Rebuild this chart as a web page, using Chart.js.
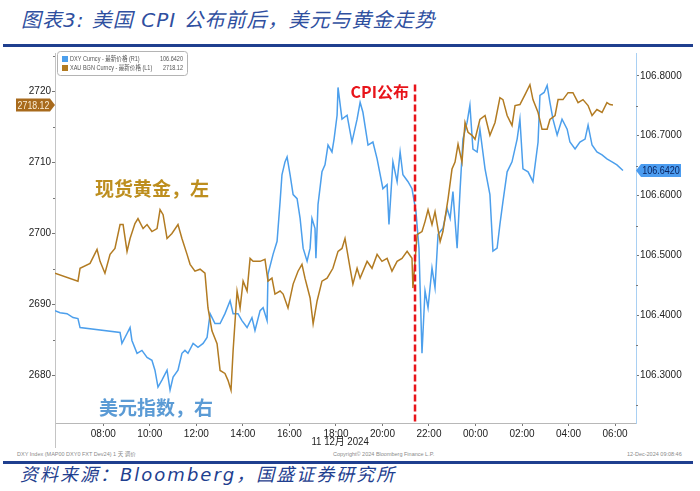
<!DOCTYPE html>
<html><head><meta charset="utf-8">
<script src="https://cdn.jsdelivr.net/npm/chart.js@4.4.1/dist/chart.umd.min.js"></script>
<style>
html,body{margin:0;padding:0;background:#fff;}
#wrap{position:relative;width:700px;height:491px;overflow:hidden;background:#fff;}
#title{position:absolute;left:21px;top:10px;font-style:italic;font-size:20px;line-height:20px;font-family:'DejaVu Sans','Noto Sans CJK SC',sans-serif;letter-spacing:1px;color:#2f4f9f;white-space:nowrap;}
#topline{position:absolute;left:3px;top:44px;width:690px;height:3px;background:#1f3f8f;}
#cv{position:absolute;left:0;top:46px;}
.meta{position:absolute;top:451px;font-size:5.5px;line-height:6px;font-family:'Liberation Sans','Noto Sans CJK SC',sans-serif;color:#8a8a8a;white-space:nowrap;}
#botline{position:absolute;left:3px;top:461px;width:690px;height:3px;background:#1f3f8f;}
#source{position:absolute;left:20px;top:465px;font-style:italic;font-size:18px;line-height:20px;font-family:'DejaVu Sans','Noto Sans CJK SC',sans-serif;letter-spacing:2px;color:#1f3f8f;white-space:nowrap;}
</style></head>
<body><div id="wrap">
<div id="title">图表3:  美国 CPI 公布前后，美元与黄金走势</div>
<div id="topline"></div>
<canvas id="cv" width="700" height="404" style="width:700px;height:404px"></canvas>
<div class="meta" style="left:17px">DXY Index (MAP00 DXY0 FXT Dev24) 1 天 调价</div>
<div class="meta" style="left:333px">Copyright© 2024 Bloomberg Finance L.P.</div>
<div class="meta" style="left:627px">12-Dec-2024 09:08:46</div>
<div id="botline"></div>
<div id="source">资料来源：Bloomberg，国盛证券研究所</div>
</div>
<script>
// ---- data (hours on the clock, continuing past 24 into 12 Dec) ----
const goldHours = [5.92,6.91,7.00,7.43,7.73,7.86,8.07,8.29,8.50,8.72,8.85,9.02,9.15,9.36,9.49,9.71,9.88,10.09,10.31,10.44,10.57,10.74,10.95,11.21,11.38,11.60,11.73,11.94,12.16,12.37,12.50,12.67,12.89,13.02,13.23,13.36,13.49,13.58,13.75,13.88,14.01,14.18,14.31,14.44,14.74,14.95,15.08,15.25,15.38,15.60,15.73,15.94,16.16,16.37,16.54,16.67,16.89,17.02,17.19,17.40,17.62,17.87,18.09,18.26,18.39,18.61,18.73,18.91,19.04,19.34,19.55,19.77,19.98,20.20,20.41,20.63,20.84,21.06,21.27,21.31,21.49,21.70,21.83,21.96,22.13,22.26,22.48,22.60,22.82,22.99,23.12,23.25,23.42,23.55,23.68,23.85,23.98,24.19,24.41,24.62,24.84,25.05,25.18,25.36,25.57,25.70,25.91,26.13,26.34,26.47,26.69,26.86,27.08,27.20,27.42,27.55,27.76,27.98,28.19,28.41,28.62,28.84,29.01,29.22,29.44,29.65,29.78,29.91];
const goldPrices = [2694.41,2693.29,2695.10,2695.80,2697.76,2696.08,2694.41,2697.06,2697.90,2701.26,2701.26,2697.48,2699.30,2701.40,2702.10,2700.70,2701.26,2700.28,2700.70,2703.36,2702.66,2699.30,2700.00,2701.26,2699.30,2697.06,2695.66,2694.69,2694.97,2694.41,2689.51,2686.29,2684.48,2680.70,2680.28,2679.30,2677.90,2683.50,2691.89,2689.51,2693.29,2691.89,2696.50,2696.08,2696.08,2696.36,2693.29,2693.71,2691.47,2691.89,2691.47,2689.51,2692.87,2694.69,2695.66,2693.71,2690.91,2687.27,2690.49,2693.29,2693.71,2695.10,2697.48,2697.90,2699.30,2695.10,2692.87,2695.10,2693.71,2696.08,2695.10,2697.06,2696.08,2696.50,2694.69,2696.08,2696.50,2697.48,2696.50,2692.31,2699.86,2700.28,2701.68,2703.36,2701.26,2703.08,2698.88,2700.28,2704.90,2709.09,2710.07,2712.59,2710.07,2715.66,2714.27,2713.85,2713.29,2716.08,2716.64,2713.85,2715.66,2719.16,2718.88,2716.64,2715.24,2718.04,2718.18,2719.58,2720.98,2718.88,2717.06,2714.69,2714.69,2716.08,2716.64,2718.88,2718.88,2719.86,2719.86,2718.46,2718.88,2718.04,2716.64,2717.48,2717.06,2718.46,2718.18,2718.12];
const dxyHours = [5.92,6.14,6.44,6.70,6.91,7.00,8.72,8.80,9.02,9.15,9.23,9.45,9.66,9.88,10.09,10.22,10.35,10.52,10.74,10.87,11.00,11.21,11.38,11.51,11.64,11.86,12.07,12.29,12.46,12.59,12.80,13.02,13.23,13.45,13.58,13.79,13.96,14.18,14.39,14.52,14.74,14.87,15.04,15.08,15.30,15.47,15.60,15.68,15.81,15.90,16.03,16.16,16.33,16.46,16.59,16.76,16.89,16.97,17.10,17.14,17.23,17.40,17.53,17.66,17.83,17.92,18.05,18.09,18.26,18.48,18.69,18.91,19.04,19.16,19.38,19.59,19.77,20.02,20.20,20.28,20.45,20.63,20.76,20.88,21.10,21.27,21.44,21.57,21.70,21.83,21.96,22.13,22.26,22.39,22.60,22.78,22.91,23.03,23.21,23.34,23.46,23.64,23.76,23.89,24.07,24.19,24.41,24.62,24.75,24.93,25.05,25.18,25.36,25.57,25.79,25.91,26.04,26.26,26.47,26.69,26.77,26.95,27.08,27.20,27.33,27.51,27.72,27.94,28.06,28.28,28.49,28.71,28.84,29.01,29.22,29.44,29.65,29.87,30.08,30.34];
const dxyValues = [106.4080,106.4046,106.4030,106.3964,106.3947,106.3798,106.3715,106.3533,106.3699,106.3798,106.3583,106.3368,106.3417,106.3301,106.3252,106.3086,106.2805,106.2921,106.3086,106.2755,106.2970,106.3086,106.3368,106.3417,106.3368,106.3533,106.3467,106.3533,106.3632,106.4030,106.3864,106.3864,106.4030,106.4245,106.4030,106.4030,106.3914,106.3798,106.3964,106.3748,106.4080,106.4129,106.3914,106.4692,106.5023,106.5238,106.5901,106.6348,106.6563,106.6646,106.6348,106.6017,106.5950,106.5619,106.5123,106.4907,106.5123,106.5619,106.5454,106.4957,106.5851,106.6397,106.6513,106.6844,106.6728,106.6944,106.7341,106.7805,106.7275,106.7341,106.6894,106.7275,106.7556,106.7391,106.6844,106.6894,106.6613,106.6116,106.6182,106.5520,106.6563,106.6232,106.6728,106.6348,106.6232,106.6116,106.5735,106.5123,106.3368,106.4411,106.4129,106.4791,106.4460,106.5354,106.5454,106.5785,106.5619,106.6066,106.5123,106.6116,106.6944,106.7225,106.7507,106.6778,106.6728,106.7109,106.6447,106.6017,106.5073,106.5123,106.5520,106.5901,106.6397,106.6563,106.6944,106.7275,106.6447,106.6397,106.6232,106.6894,106.7672,106.7722,106.7838,106.7556,106.7275,106.7010,106.7275,106.7109,106.6894,106.6778,106.6894,106.6944,106.7175,106.6844,106.6728,106.6679,106.6613,106.6563,106.6513,106.6420];
const xTickHours = [8,10,12,14,16,18,20,22,24,26,28,30];
const leftTicks = [2680,2690,2700,2710,2720];
const rightTicks = [106.3,106.4,106.5,106.6,106.7,106.8];
const legendLabels = ['DXY Curncy - 最新价格 (R1)','XAU BGN Curncy - 最新价格 (L1)'];
const lastValues = ['106.6420','2718.12'];
const dateLabel = '11 12月 2024';
const cpiTime = 21.4;
const cpiText = 'CPI公布';
const goldText = '现货黄金，左';
const dxyText = '美元指数，右';

const BLUE = '#4c9fec', GOLD = '#b27b22';
const SANS = "'Liberation Sans',Arial,sans-serif";

function roundRect(ctx,x,y,w,h,r){ctx.beginPath();ctx.moveTo(x+r,y);ctx.lineTo(x+w-r,y);ctx.quadraticCurveTo(x+w,y,x+w,y+r);ctx.lineTo(x+w,y+h-r);ctx.quadraticCurveTo(x+w,y+h,x+w-r,y+h);ctx.lineTo(x+r,y+h);ctx.quadraticCurveTo(x,y+h,x,y+h-r);ctx.lineTo(x,y+r);ctx.quadraticCurveTo(x,y,x+r,y);ctx.closePath();}
function narrowText(ctx,txt,x,y,sx){ctx.save();ctx.translate(x,y);ctx.scale(sx,1);ctx.fillText(txt,0,0);ctx.restore();}

const decor = {
  id:'decor',
  afterDatasetsDraw(chart){
    const {ctx, chartArea:ca} = chart;
    const xs = chart.scales.x, yl = chart.scales.y, yr = chart.scales.y1;
    ctx.save();
    // minor ticks
    ctx.strokeStyle='#777'; ctx.lineWidth=1;
    for (let i=0;i<leftTicks.length;i++){
      const v = leftTicks[i]+5; if (v>yl.max) continue;
      const py=Math.round(yl.getPixelForValue(v))+0.5;
      ctx.beginPath(); ctx.moveTo(ca.left-2,py); ctx.lineTo(ca.left,py); ctx.stroke();
    }
    for (let i=0;i<rightTicks.length;i++){
      const v = rightTicks[i]-0.05; if (v<yr.min) continue;
      const py=Math.round(yr.getPixelForValue(v))+0.5;
      ctx.beginPath(); ctx.moveTo(ca.right,py); ctx.lineTo(ca.right+2,py); ctx.stroke();
    }
    // left axis extension below
    ctx.strokeStyle='#c4c4c4';
    ctx.beginPath(); ctx.moveTo(Math.round(ca.left)+0.5, ca.bottom); ctx.lineTo(Math.round(ca.left)+0.5, ca.bottom+25); ctx.stroke();
    // date label
    ctx.fillStyle='#222'; ctx.font="11px "+SANS+",'Noto Sans CJK SC'"; ctx.textAlign='center'; ctx.textBaseline='middle';
    narrowText(ctx, dateLabel, xs.getPixelForValue(18.18), ca.bottom+19, 0.88);
    // CPI line
    const cx = xs.getPixelForValue(cpiTime);
    ctx.setLineDash([7,3]); ctx.strokeStyle='#e8141a'; ctx.lineWidth=2.5;
    ctx.beginPath(); ctx.moveTo(cx, yl.getPixelForValue(2721.0)); ctx.lineTo(cx, ca.bottom); ctx.stroke();
    ctx.setLineDash([]);
    ctx.font="bold 16px 'Noto Sans CJK SC',sans-serif"; ctx.fillStyle='#e8141a'; ctx.textAlign='right';
    ctx.fillText(cpiText, cx-6, yl.getPixelForValue(2719.9));
    // series notes
    ctx.textAlign='left';
    ctx.font="bold 19px 'Noto Sans CJK SC',sans-serif";
    ctx.fillStyle='#bd8e1e'; ctx.fillText(goldText, xs.getPixelForValue(7.64), yl.getPixelForValue(2706.3));
    ctx.fillStyle='#5b9bd5'; ctx.fillText(dxyText, xs.getPixelForValue(7.81), yr.getPixelForValue(106.2457));
    // legend box
    const lx=57, ly=5, lw=130, lh=24;
    ctx.fillStyle='#fff'; roundRect(ctx,lx+0.5,ly+0.5,lw,lh,3); ctx.fill();
    ctx.strokeStyle='#b4b4b4'; ctx.lineWidth=1; ctx.stroke();
    ctx.font="6.5px 'Liberation Sans','Noto Sans CJK SC',sans-serif";
    const rows=[[BLUE,legendLabels[0],lastValues[0]],[GOLD,legendLabels[1],lastValues[1]]];
    rows.forEach((r,i)=>{
      const ry = ly+8+i*9;
      ctx.fillStyle=r[0]; ctx.fillRect(lx+5, ry-3, 6, 6);
      ctx.fillStyle='#555'; ctx.textAlign='left'; narrowText(ctx, r[1], lx+13, ry, 0.85);
      ctx.textAlign='right'; narrowText(ctx, r[2], lx+lw-4, ry, 0.85);
    });
    // last value tags
    ctx.font='11px '+SANS; ctx.textBaseline='middle';
    let py = yl.getPixelForValue(goldPrices[goldPrices.length-1]);
    ctx.fillStyle='#a86a1c';
    ctx.beginPath(); ctx.moveTo(16,py-6.5); ctx.lineTo(50,py-6.5); ctx.lineTo(ca.left,py); ctx.lineTo(50,py+6.5); ctx.lineTo(16,py+6.5); ctx.closePath(); ctx.fill();
    ctx.fillStyle='#fbeed6'; ctx.textAlign='center'; narrowText(ctx, lastValues[1], 33.5, py+0.5, 0.8);
    py = yr.getPixelForValue(dxyValues[dxyValues.length-1]);
    ctx.fillStyle='#4b9cf0';
    ctx.beginPath(); ctx.moveTo(ca.right,py); ctx.lineTo(ca.right+5,py-6.5); ctx.lineTo(681,py-6.5); ctx.lineTo(681,py+6.5); ctx.lineTo(ca.right+5,py+6.5); ctx.closePath(); ctx.fill();
    ctx.fillStyle='#0b2560'; narrowText(ctx, lastValues[0], (ca.right+5+681)/2, py+0.5, 0.82);
    ctx.restore();
  }
};

const tickFont = {family:SANS, size:10};
new Chart(document.getElementById('cv'), {
  type:'line',
  data:{datasets:[
    {label:legendLabels[0], data:dxyHours.map((h,i)=>({x:h,y:dxyValues[i]})), yAxisID:'y1', borderColor:BLUE, borderWidth:1.5, pointRadius:0, tension:0, order:2},
    {label:legendLabels[1], data:goldHours.map((h,i)=>({x:h,y:goldPrices[i]})), yAxisID:'y', borderColor:GOLD, borderWidth:1.5, pointRadius:0, tension:0, order:1}
  ]},
  options:{
    responsive:false, animation:false, devicePixelRatio:1,
    layout:{padding:{top:4,left:0,right:0,bottom:0}},
    plugins:{legend:{display:false}, tooltip:{enabled:false}},
    scales:{
      x:{type:'linear', position:'bottom', min:5.923, max:30.90,
        afterBuildTicks:s=>{s.ticks=xTickHours.map(v=>({value:v}));},
        afterFit:s=>{s.height=27;},
        grid:{drawOnChartArea:false, drawTicks:true, tickLength:3, color:'#777'},
        border:{color:'#b8b8b8'},
        ticks:{autoSkip:false, maxRotation:0, padding:2, color:'#222', font:tickFont,
          callback:v=>String(v%24).padStart(2,'0')+':00'}},
      y:{type:'linear', position:'left', min:2673.29, max:2725.45,
        afterBuildTicks:s=>{s.ticks=leftTicks.map(v=>({value:v}));},
        afterFit:s=>{s.width=55;},
        grid:{drawOnChartArea:false, drawTicks:true, tickLength:3, color:'#777'},
        border:{color:'#c4c4c4'},
        ticks:{padding:1, color:'#222', font:tickFont, callback:v=>String(v)}},
      y1:{type:'linear', position:'right', min:106.2205, max:106.838,
        afterBuildTicks:s=>{s.ticks=rightTicks.map(v=>({value:v}));},
        afterFit:s=>{s.width=64;},
        grid:{drawOnChartArea:false, drawTicks:true, tickLength:3, color:'#777'},
        border:{color:'#a9d0f3'},
        ticks:{padding:1, color:'#222', font:tickFont, callback:v=>Number(v).toFixed(4)}}
    }
  },
  plugins:[decor]
});
</script>
</body></html>
